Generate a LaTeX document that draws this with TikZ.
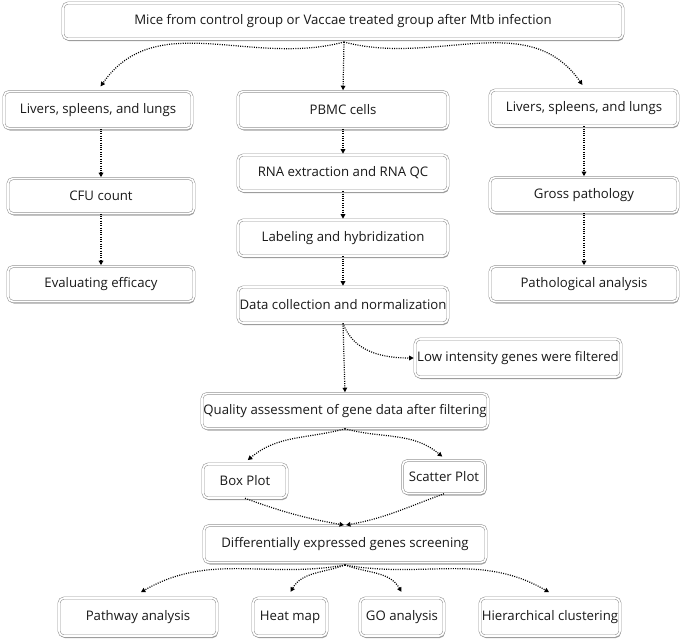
\documentclass[tikz,border=0pt]{standalone}
\usepackage{fontspec}
\setmainfont{Open Sans}
\usetikzlibrary{arrows.meta,shadows,calc}
\begin{document}
\begin{tikzpicture}[x=1pt,y=-1pt,
  box/.style={draw=gray!85, line width=0.55pt, rounded corners=5pt, fill=white,
    double=white, double distance=1.6pt,
    drop shadow={shadow xshift=0.8pt, shadow yshift=-2pt, fill=gray!80, opacity=0.9},
    inner sep=1pt, align=center, font=\fontsize{13.2}{15}\selectfont, text=black!90},
  arr/.style={line width=1.2pt, dash pattern=on 1pt off 1.3pt, black, -{Triangle[length=4.5pt,width=4.5pt]}, shorten >=1pt}]
\useasboundingbox (0,0) rectangle (685,641);

\node[box, minimum width=560, minimum height=36] (top) at (343,21) {Mice from control group or Vaccae treated group after Mtb infection};

\node[box, minimum width=188, minimum height=37] (l1) at (98,110) {Livers, spleens, and lungs};
\node[box, minimum width=210, minimum height=37] (pbmc) at (343,110) {PBMC cells};
\node[box, minimum width=188, minimum height=36] (r1) at (584,108) {Livers, spleens, and lungs};

\node[box, minimum width=186, minimum height=35] (cfu) at (101,196) {CFU count};
\node[box, minimum width=186, minimum height=35] (eval) at (101,284) {Evaluating efficacy};

\node[box, minimum width=210, minimum height=36] (rna) at (343,173) {RNA extraction and RNA QC};
\node[box, minimum width=210, minimum height=36] (lab) at (343,238) {Labeling and hybridization};
\node[box, minimum width=210, minimum height=36] (data) at (343,305) {Data collection and normalization};

\node[box, minimum width=188, minimum height=35] (gross) at (584,195) {Gross pathology};
\node[box, minimum width=188, minimum height=35] (path) at (584,284) {Pathological analysis};

\node[box, minimum width=206, minimum height=38] (low) at (518,358) {Low intensity genes were filtered};
\node[box, minimum width=286, minimum height=35] (qual) at (345,411) {Quality assessment of gene data after filtering};

\node[box, minimum width=84, minimum height=34] (boxp) at (245,481) {Box Plot};
\node[box, minimum width=83, minimum height=33] (scat) at (444,477) {Scatter Plot};

\node[box, minimum width=282, minimum height=37] (diff) at (345,544) {Differentially expressed genes screening};

\node[box, minimum width=158, minimum height=38] (pw) at (138,617) {Pathway analysis};
\node[box, minimum width=74, minimum height=38] (heat) at (290,617) {Heat map};
\node[box, minimum width=84, minimum height=38] (go) at (402,617) {GO analysis};
\node[box, minimum width=140, minimum height=38] (hier) at (550,617) {Hierarchical clustering};

\coordinate (ts) at (344,42);
\draw[arr] (ts) to[out=-165, in=55] ($(l1.north)+(2,-4)$);
\draw[arr] (ts) -- (pbmc.north);
\draw[arr] (ts) to[out=-15, in=125] ($(r1.north)+(-1,-4)$);

\draw[arr] (l1.south -| cfu.north) -- (cfu.north);
\draw[arr] (cfu.south) -- (eval.north);

\draw[arr] (pbmc.south) -- (rna.north);
\draw[arr] (rna.south) -- (lab.north);
\draw[arr] (lab.south) -- (data.north);

\draw[arr] (r1.south) -- (gross.north);
\draw[arr] (gross.south) -- (path.north);

\draw[arr] (data.south) to[out=-70, in=180] (low.west);
\draw[arr] (data.south) -- (qual.north);

\draw[arr] (qual.south) to[out=-165, in=40] ($(boxp.north)+(2,-3)$);
\draw[arr] (qual.south) to[out=-15, in=140] ($(scat.north)+(-1,-3)$);

\draw[arr] (boxp.south) to[out=-20, in=170] (diff.north);
\draw[arr] (scat.south) to[out=-160, in=10] (diff.north);

\coordinate (ds) at (345,565);
\draw[arr] (ds) to[out=-170, in=30] ($(pw.north)+(2,-5)$);
\draw[arr] (ds) to[out=-160, in=60] ($(heat.north)+(0,-5)$);
\draw[arr] (ds) to[out=-20, in=120] ($(go.north)+(0,-5)$);
\draw[arr] (ds) to[out=-10, in=150] ($(hier.north)+(0,-5)$);
\end{tikzpicture}
\end{document}
